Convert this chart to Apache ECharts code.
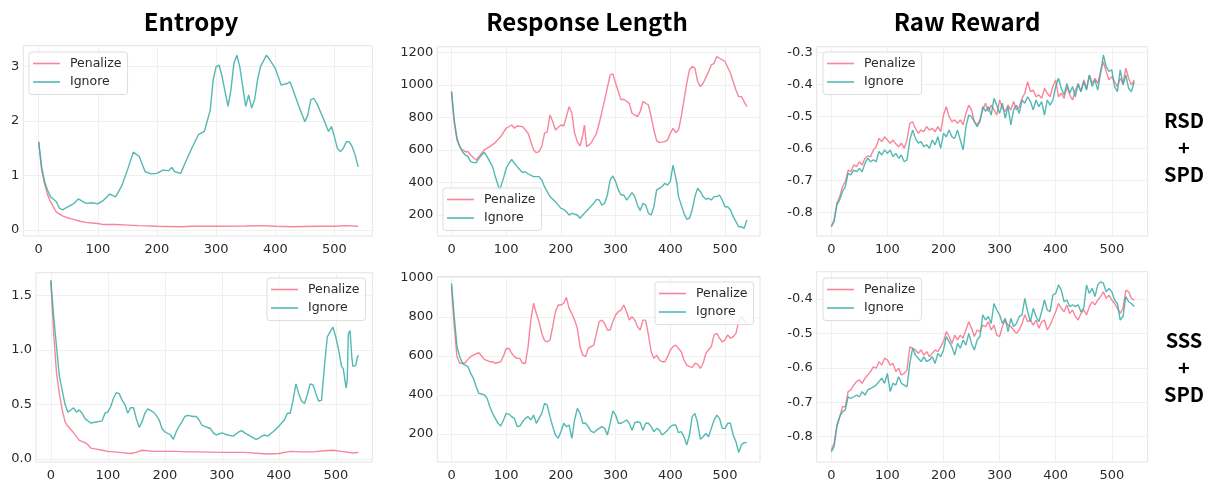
<!DOCTYPE html>
<html>
<head>
<meta charset="utf-8">
<script src="https://cdn.jsdelivr.net/npm/echarts@6/dist/echarts.min.js"></script>
<style>html,body{margin:0;padding:0;background:#fff}#c{width:1213px;height:483px}</style>
</head>
<body>
<div id="c"></div>
<script>
// ---- titles / labels ----
const colTitles = ['Entropy', 'Response Length', 'Raw Reward'];
const rowLabels = ['RSD\n+\nSPD', 'SSS\n+\nSPD'];
const seriesNames = ['Penalize', 'Ignore'];
const xTicks = [0, 100, 200, 300, 400, 500];
const yTicksEntTop = [0, 1, 2, 3];
const yTicksLenTop = [200, 400, 600, 800, 1000, 1200];
const yTicksRewTop = [-0.8, -0.7, -0.6, -0.5, -0.4, -0.3];
const yTicksEntBot = [0, 0.5, 1.0, 1.5];
const yTicksLenBot = [200, 400, 600, 800, 1000];
const yTicksRewBot = [-0.8, -0.7, -0.6, -0.5, -0.4];

// ---- data: [step, value] ----
const entTopPen = [[0,1.62],[5,1.1],[10,0.85],[15,0.65],[20,0.52],[25,0.42],[30,0.33],[40,0.26],[50,0.22],[60,0.19],[70,0.16],[80,0.14],[90,0.13],[100,0.12],[110,0.1],[120,0.1],[130,0.1],[150,0.09],[170,0.08],[200,0.07],[240,0.06],[260,0.07],[300,0.07],[350,0.075],[380,0.08],[400,0.07],[430,0.06],[470,0.07],[500,0.07],[520,0.08],[540,0.07]];
const entTopIgn = [[0,1.62],[5,1.16],[10,0.89],[15,0.73],[20,0.61],[30,0.52],[35,0.4],[40,0.37],[50,0.43],[60,0.49],[67,0.57],[70,0.55],[80,0.49],[90,0.5],[100,0.48],[110,0.55],[120,0.66],[130,0.61],[140,0.8],[150,1.1],[160,1.43],[170,1.35],[180,1.07],[190,1.03],[200,1.04],[210,1.1],[220,1.09],[225,1.15],[230,1.07],[240,1.04],[250,1.29],[260,1.53],[270,1.75],[280,1.81],[290,2.2],[295,2.76],[300,3.0],[305,3.03],[310,2.82],[320,2.27],[325,2.57],[330,3.06],[335,3.21],[340,3.0],[345,2.63],[350,2.27],[355,2.48],[360,2.24],[365,2.39],[370,2.76],[375,3.0],[385,3.21],[390,3.14],[400,2.97],[410,2.66],[420,2.69],[425,2.72],[430,2.57],[440,2.27],[450,1.99],[455,2.11],[460,2.39],[465,2.42],[470,2.33],[480,2.08],[490,1.81],[495,1.9],[500,1.71],[505,1.5],[510,1.44],[515,1.5],[520,1.62],[525,1.62],[530,1.53],[535,1.38],[540,1.16]];

const lenTopPen = [[0,958],[5,763],[10,661],[15,620],[20,600],[25,589],[30,589],[35,569],[40,552],[45,538],[50,559],[60,600],[70,620],[80,645],[90,682],[100,733],[110,753],[115,733],[120,747],[130,743],[140,702],[150,600],[155,583],[160,589],[165,620],[170,702],[175,712],[180,815],[185,774],[190,722],[200,753],[205,747],[210,804],[215,866],[220,825],[225,702],[230,651],[235,624],[240,692],[243,753],[247,620],[255,641],[265,702],[270,763],[280,907],[290,1061],[295,1067],[300,1009],[310,907],[315,911],[325,886],[330,825],[340,804],[345,835],[350,897],[360,876],[365,804],[370,722],[375,657],[380,645],[390,651],[395,661],[400,702],[405,733],[410,706],[415,722],[420,804],[430,1009],[435,1091],[440,1112],[445,1102],[450,1020],[455,989],[460,1009],[470,1081],[475,1122],[480,1132],[485,1173],[490,1163],[495,1153],[500,1143],[510,1071],[520,968],[525,927],[530,927],[535,897],[540,866]];
const lenTopIgn = [[0,958],[5,784],[10,671],[15,620],[20,589],[25,569],[30,559],[35,528],[40,522],[45,522],[50,548],[55,569],[60,585],[65,559],[70,528],[75,497],[80,436],[85,384],[88,354],[90,364],[95,425],[100,487],[105,518],[110,542],[115,518],[120,497],[130,460],[135,466],[140,452],[150,436],[160,436],[165,415],[170,374],[180,313],[190,282],[200,241],[205,235],[210,220],[215,200],[220,210],[230,200],[235,180],[240,200],[250,235],[260,272],[265,296],[270,292],[275,261],[280,272],[285,323],[290,415],[295,440],[300,405],[305,354],[310,323],[315,323],[320,292],[325,313],[330,337],[335,313],[340,261],[345,227],[350,272],[355,261],[360,210],[365,200],[370,251],[375,354],[380,364],[385,374],[390,395],[395,384],[400,405],[405,507],[408,507],[412,395],[415,313],[420,261],[425,210],[430,174],[435,180],[440,231],[445,313],[450,364],[455,343],[460,313],[465,296],[470,303],[475,292],[480,313],[485,313],[490,323],[495,292],[500,251],[505,251],[510,231],[515,190],[520,159],[525,128],[530,128],[535,118],[540,169]];

const rewTopPen = [[0,-0.843],[5,-0.824],[10,-0.772],[15,-0.751],[20,-0.72],[25,-0.704],[30,-0.668],[35,-0.673],[40,-0.652],[45,-0.657],[50,-0.642],[55,-0.652],[60,-0.631],[65,-0.624],[70,-0.626],[75,-0.605],[80,-0.595],[85,-0.569],[90,-0.579],[95,-0.564],[100,-0.574],[105,-0.584],[110,-0.574],[115,-0.586],[120,-0.595],[125,-0.584],[130,-0.6],[135,-0.574],[140,-0.522],[145,-0.517],[150,-0.538],[155,-0.553],[160,-0.543],[165,-0.548],[170,-0.532],[175,-0.543],[180,-0.538],[185,-0.548],[190,-0.532],[195,-0.548],[200,-0.496],[205,-0.47],[210,-0.501],[215,-0.517],[220,-0.511],[225,-0.522],[230,-0.511],[235,-0.527],[240,-0.491],[245,-0.465],[250,-0.48],[255,-0.517],[260,-0.527],[265,-0.511],[270,-0.48],[275,-0.459],[280,-0.485],[285,-0.465],[290,-0.48],[295,-0.496],[300,-0.449],[305,-0.475],[310,-0.485],[315,-0.465],[320,-0.48],[325,-0.454],[330,-0.48],[335,-0.47],[340,-0.444],[345,-0.428],[350,-0.392],[355,-0.423],[360,-0.418],[365,-0.439],[370,-0.433],[375,-0.444],[380,-0.413],[385,-0.428],[390,-0.439],[395,-0.407],[400,-0.386],[405,-0.439],[410,-0.428],[415,-0.444],[420,-0.407],[425,-0.433],[430,-0.449],[435,-0.418],[440,-0.402],[445,-0.423],[450,-0.386],[455,-0.413],[460,-0.371],[465,-0.397],[470,-0.381],[475,-0.397],[480,-0.36],[485,-0.329],[490,-0.36],[495,-0.386],[500,-0.376],[505,-0.392],[510,-0.407],[515,-0.381],[520,-0.397],[525,-0.35],[530,-0.381],[535,-0.402],[540,-0.386]];
const rewTopIgn = [[0,-0.845],[5,-0.829],[10,-0.777],[15,-0.761],[20,-0.735],[25,-0.72],[30,-0.678],[35,-0.683],[40,-0.668],[45,-0.673],[50,-0.663],[55,-0.673],[60,-0.647],[65,-0.631],[70,-0.642],[75,-0.636],[80,-0.642],[85,-0.61],[90,-0.621],[95,-0.605],[100,-0.616],[105,-0.605],[110,-0.626],[115,-0.616],[120,-0.631],[125,-0.621],[130,-0.642],[135,-0.636],[140,-0.574],[145,-0.543],[150,-0.569],[155,-0.584],[160,-0.579],[165,-0.595],[170,-0.589],[175,-0.6],[180,-0.574],[185,-0.589],[190,-0.564],[195,-0.6],[200,-0.553],[205,-0.564],[210,-0.543],[215,-0.564],[220,-0.569],[225,-0.543],[230,-0.574],[235,-0.605],[240,-0.532],[245,-0.496],[250,-0.501],[255,-0.517],[260,-0.532],[265,-0.517],[270,-0.47],[275,-0.485],[280,-0.47],[285,-0.496],[290,-0.444],[295,-0.465],[300,-0.491],[305,-0.459],[310,-0.506],[315,-0.47],[320,-0.527],[325,-0.48],[330,-0.465],[335,-0.491],[340,-0.449],[345,-0.459],[350,-0.439],[355,-0.454],[360,-0.48],[365,-0.449],[370,-0.47],[375,-0.454],[380,-0.496],[385,-0.449],[390,-0.465],[395,-0.449],[400,-0.407],[405,-0.381],[410,-0.413],[415,-0.433],[420,-0.397],[425,-0.428],[430,-0.407],[435,-0.439],[440,-0.397],[445,-0.423],[450,-0.392],[455,-0.418],[460,-0.371],[465,-0.407],[470,-0.386],[475,-0.418],[480,-0.366],[485,-0.308],[490,-0.345],[495,-0.36],[500,-0.355],[505,-0.407],[510,-0.423],[515,-0.355],[520,-0.402],[525,-0.371],[530,-0.413],[535,-0.423],[540,-0.392]];

const entBotPen = [[0,1.64],[5,1.15],[10,0.79],[15,0.6],[20,0.45],[25,0.34],[30,0.3],[40,0.24],[50,0.17],[60,0.15],[65,0.13],[70,0.1],[80,0.09],[90,0.08],[100,0.07],[120,0.06],[140,0.05],[150,0.06],[160,0.08],[180,0.07],[200,0.07],[220,0.07],[240,0.065],[260,0.065],[300,0.06],[340,0.06],[380,0.045],[400,0.05],[420,0.07],[440,0.065],[460,0.065],[480,0.075],[495,0.08],[510,0.07],[530,0.055],[540,0.06]];
const entBotIgn = [[0,1.64],[5,1.31],[10,1.03],[15,0.76],[20,0.63],[25,0.5],[30,0.43],[35,0.45],[40,0.47],[45,0.43],[50,0.45],[55,0.42],[60,0.37],[70,0.33],[80,0.34],[90,0.35],[95,0.42],[100,0.43],[105,0.48],[110,0.56],[115,0.61],[120,0.6],[125,0.54],[130,0.5],[135,0.42],[140,0.47],[145,0.47],[150,0.37],[155,0.29],[160,0.34],[165,0.42],[170,0.46],[180,0.43],[185,0.4],[190,0.36],[195,0.28],[200,0.25],[210,0.22],[215,0.18],[220,0.25],[225,0.3],[230,0.34],[235,0.39],[240,0.4],[250,0.39],[255,0.39],[260,0.36],[265,0.31],[270,0.3],[280,0.28],[285,0.24],[290,0.22],[300,0.24],[310,0.22],[320,0.21],[330,0.25],[335,0.26],[340,0.24],[350,0.21],[360,0.18],[365,0.19],[370,0.21],[375,0.22],[380,0.21],[390,0.25],[400,0.3],[410,0.36],[415,0.42],[420,0.42],[425,0.54],[430,0.69],[435,0.6],[440,0.53],[445,0.51],[450,0.59],[455,0.69],[460,0.68],[465,0.6],[470,0.53],[475,0.54],[480,0.85],[485,1.12],[490,1.17],[495,1.21],[500,1.12],[505,1.0],[510,0.85],[513,0.83],[515,0.76],[518,0.65],[520,0.72],[522,1.15],[525,1.18],[528,0.94],[530,0.85],[535,0.86],[538,0.94],[540,0.95]];

const lenBotPen = [[0,954],[5,749],[10,596],[15,562],[20,562],[25,565],[30,582],[35,596],[40,604],[50,616],[55,599],[60,582],[70,570],[75,570],[80,562],[90,570],[95,599],[100,638],[105,638],[110,613],[115,596],[120,587],[125,587],[130,562],[135,562],[140,647],[145,783],[150,869],[155,817],[160,775],[165,715],[170,678],[175,672],[180,681],[185,749],[190,826],[195,860],[200,860],[205,869],[210,899],[215,843],[220,817],[225,783],[230,741],[235,647],[240,604],[245,596],[250,638],[255,647],[260,655],[265,715],[270,775],[275,783],[280,766],[285,732],[290,732],[295,775],[300,809],[305,826],[310,834],[315,860],[320,826],[325,783],[330,800],[335,783],[340,749],[345,732],[350,783],[355,783],[360,707],[365,621],[370,587],[375,604],[380,579],[385,570],[390,570],[395,596],[400,630],[405,647],[410,655],[415,638],[420,621],[425,579],[430,553],[435,545],[440,541],[445,562],[450,558],[455,536],[460,562],[465,613],[470,630],[475,647],[480,707],[485,715],[490,690],[495,672],[500,681],[505,707],[510,690],[515,698],[520,715],[525,775],[530,800],[535,783],[540,766]];
const lenBotIgn = [[0,971],[5,800],[10,647],[15,596],[20,562],[25,553],[30,545],[35,510],[40,485],[45,442],[50,408],[55,405],[60,400],[65,383],[70,340],[75,306],[80,280],[85,255],[90,241],[95,272],[100,306],[105,302],[110,289],[115,280],[120,238],[125,241],[130,263],[135,280],[140,289],[145,272],[150,297],[155,255],[160,280],[165,306],[170,357],[175,348],[180,289],[185,238],[190,195],[195,178],[200,212],[205,255],[210,238],[215,246],[220,178],[225,272],[230,331],[235,306],[240,255],[245,255],[250,238],[255,215],[260,207],[265,220],[270,229],[275,238],[280,229],[285,195],[290,255],[295,318],[300,297],[305,255],[310,255],[315,263],[320,272],[325,255],[330,220],[335,258],[340,263],[345,258],[350,220],[355,255],[360,255],[365,238],[370,212],[375,229],[380,220],[385,195],[390,207],[395,220],[400,238],[405,246],[410,246],[415,207],[420,212],[425,186],[430,144],[435,195],[440,289],[445,306],[450,255],[455,173],[460,186],[465,203],[470,186],[475,229],[480,272],[485,297],[490,280],[495,229],[500,229],[505,255],[510,255],[515,195],[520,161],[525,106],[530,144],[535,156],[540,156]];

const rewBotPen = [[0,-0.839],[5,-0.819],[10,-0.766],[15,-0.742],[20,-0.713],[25,-0.713],[30,-0.669],[35,-0.664],[40,-0.65],[45,-0.64],[50,-0.635],[55,-0.645],[60,-0.63],[65,-0.621],[70,-0.611],[75,-0.597],[80,-0.601],[85,-0.582],[90,-0.592],[95,-0.572],[100,-0.577],[105,-0.592],[110,-0.587],[115,-0.611],[120,-0.601],[125,-0.621],[130,-0.616],[135,-0.606],[140,-0.539],[145,-0.543],[150,-0.548],[155,-0.558],[160,-0.548],[165,-0.563],[170,-0.553],[175,-0.568],[180,-0.558],[185,-0.548],[190,-0.553],[195,-0.539],[200,-0.524],[205,-0.495],[210,-0.509],[215,-0.529],[220,-0.505],[225,-0.519],[230,-0.505],[235,-0.514],[240,-0.49],[245,-0.466],[250,-0.485],[255,-0.509],[260,-0.49],[265,-0.495],[270,-0.476],[275,-0.48],[280,-0.466],[285,-0.49],[290,-0.476],[295,-0.505],[300,-0.509],[305,-0.48],[310,-0.461],[315,-0.476],[320,-0.48],[325,-0.49],[330,-0.5],[335,-0.49],[340,-0.471],[345,-0.446],[350,-0.466],[355,-0.461],[360,-0.476],[365,-0.461],[370,-0.485],[375,-0.466],[380,-0.461],[385,-0.49],[390,-0.476],[395,-0.456],[400,-0.437],[405,-0.413],[410,-0.427],[415,-0.437],[420,-0.417],[425,-0.442],[430,-0.432],[435,-0.451],[440,-0.461],[445,-0.442],[450,-0.432],[455,-0.446],[460,-0.422],[465,-0.408],[470,-0.417],[475,-0.403],[480,-0.393],[485,-0.379],[490,-0.398],[495,-0.389],[500,-0.403],[505,-0.413],[510,-0.427],[515,-0.442],[520,-0.427],[525,-0.374],[530,-0.379],[535,-0.398],[540,-0.403]];
const rewBotIgn = [[0,-0.844],[5,-0.829],[10,-0.771],[15,-0.742],[20,-0.727],[25,-0.722],[30,-0.684],[35,-0.689],[40,-0.684],[45,-0.679],[50,-0.684],[55,-0.669],[60,-0.679],[65,-0.664],[70,-0.66],[75,-0.655],[80,-0.65],[85,-0.64],[90,-0.63],[95,-0.645],[100,-0.616],[105,-0.669],[110,-0.645],[115,-0.65],[120,-0.626],[125,-0.645],[130,-0.65],[135,-0.655],[140,-0.587],[145,-0.543],[150,-0.563],[155,-0.572],[160,-0.582],[165,-0.568],[170,-0.582],[175,-0.577],[180,-0.568],[185,-0.587],[190,-0.558],[195,-0.568],[200,-0.548],[205,-0.509],[210,-0.524],[215,-0.539],[220,-0.563],[225,-0.529],[230,-0.543],[235,-0.519],[240,-0.534],[245,-0.5],[250,-0.529],[255,-0.548],[260,-0.519],[265,-0.509],[270,-0.446],[275,-0.461],[280,-0.451],[285,-0.471],[290,-0.413],[295,-0.432],[300,-0.446],[305,-0.471],[310,-0.456],[315,-0.495],[320,-0.456],[325,-0.48],[330,-0.471],[335,-0.451],[340,-0.446],[345,-0.398],[350,-0.437],[355,-0.466],[360,-0.427],[365,-0.451],[370,-0.466],[375,-0.437],[380,-0.403],[385,-0.432],[390,-0.437],[395,-0.388],[400,-0.384],[405,-0.359],[410,-0.374],[415,-0.408],[420,-0.403],[425,-0.422],[430,-0.417],[435,-0.422],[440,-0.417],[445,-0.437],[450,-0.427],[455,-0.359],[460,-0.384],[465,-0.369],[470,-0.393],[475,-0.359],[480,-0.35],[485,-0.354],[490,-0.379],[495,-0.369],[500,-0.379],[505,-0.403],[510,-0.413],[515,-0.461],[520,-0.451],[525,-0.393],[530,-0.408],[535,-0.413],[540,-0.422]];

// ---- layout ----
const PINK = 'rgba(247,113,137,0.85)';
const TEAL = 'rgba(54,173,164,0.85)';
const panels = [
  {g:{left:23.3, top:45.7, width:349, height:190.3}, y:[-0.11, 3.385], yt:yTicksEntTop, fmt:v=>String(v), d:[entTopPen, entTopIgn], lg:{left:29, top:52}},
  {g:{left:437.3, top:46.7, width:322.7, height:189.3}, y:[71, 1234], yt:yTicksLenTop, fmt:v=>String(v), d:[lenTopPen, lenTopIgn], lg:{left:443, top:188}},
  {g:{left:816.7, top:46.7, width:331, height:189.3}, y:[-0.874, -0.2825], yt:yTicksRewTop, fmt:v=>v.toFixed(1), d:[rewTopPen, rewTopIgn], lg:{left:823, top:52}},
  {g:{left:36, top:272.7, width:336.3, height:189.3}, y:[-0.028, 1.711], yt:yTicksEntBot, fmt:v=>v.toFixed(1), d:[entBotPen, entBotIgn], lg:{left:267, top:278}},
  {g:{left:437.3, top:276.5, width:322.7, height:185.5}, y:[57, 1006], yt:yTicksLenBot, fmt:v=>String(v), d:[lenBotPen, lenBotIgn], lg:{left:655, top:282}},
  {g:{left:816.7, top:271.7, width:331, height:190.3}, y:[-0.8735, -0.3207], yt:yTicksRewBot, fmt:v=>v.toFixed(1), d:[rewBotPen, rewBotIgn], lg:{left:823, top:278}}
];

const grid = [], xAxis = [], yAxis = [], series = [], legend = [];
panels.forEach((p, i) => {
  grid.push(Object.assign({show:true, borderColor:'#e4e4e4', borderWidth:1, backgroundColor:'#fff', containLabel:false}, p.g));
  xAxis.push({type:'value', gridIndex:i, min:-26, max:564,
    axisLine:{show:false}, axisTick:{show:false, customValues:xTicks},
    axisLabel:{customValues:xTicks, color:'#2a2a2a', fontFamily:'DejaVu Sans', fontSize:13, margin:7},
    splitLine:{show:true, lineStyle:{color:'#f0f0f0', width:1}}});
  yAxis.push({type:'value', gridIndex:i, min:p.y[0], max:p.y[1],
    axisLine:{show:false}, axisTick:{show:false, customValues:p.yt},
    axisLabel:{customValues:p.yt, formatter:p.fmt, color:'#2a2a2a', fontFamily:'DejaVu Sans', fontSize:13, margin:4},
    splitLine:{show:true, lineStyle:{color:'#f0f0f0', width:1}}});
  [PINK, TEAL].forEach((c, k) => {
    series.push({type:'line', name:seriesNames[k], xAxisIndex:i, yAxisIndex:i, data:p.d[k],
      symbol:'none', showSymbol:false, smooth:false, animation:false,
      lineStyle:{color:c, width:1.4}, itemStyle:{color:c}, z:2+k});
  });
  legend.push({data:seriesNames, left:p.lg.left, top:p.lg.top, orient:'vertical',
    icon:'rect', itemWidth:27, itemHeight:1.6,
    backgroundColor:'rgba(255,255,255,0.8)', borderColor:'#dddddd', borderWidth:1, borderRadius:3,
    padding:[4,6,5,4], itemGap:3.5, selectedMode:false,
    textStyle:{fontFamily:'DejaVu Sans', fontSize:12.5, color:'#2a2a2a', lineHeight:15, padding:[0,0,0,5]}});
});

const titleX = [191, 587, 967];
const graphic = colTitles.map((t, i) => ({type:'text', x:titleX[i], y:22, z:100,
  style:{text:t, fill:'#000', font:'bold 24px "Noto Sans CJK SC"', textAlign:'center', textVerticalAlign:'middle'}}));
[147, 367].forEach((cy, i) => graphic.push({type:'text', x:1184, y:cy, z:100,
  style:{text:rowLabels[i], fill:'#000', font:'bold 20px "Noto Sans CJK SC"', lineHeight:27, textAlign:'center', textVerticalAlign:'middle'}}));

const chart = echarts.init(document.getElementById('c'), null, {renderer:'canvas'});
chart.setOption({animation:false, backgroundColor:'#fff', grid, xAxis, yAxis, series, legend, graphic});
</script>
</body>
</html>
